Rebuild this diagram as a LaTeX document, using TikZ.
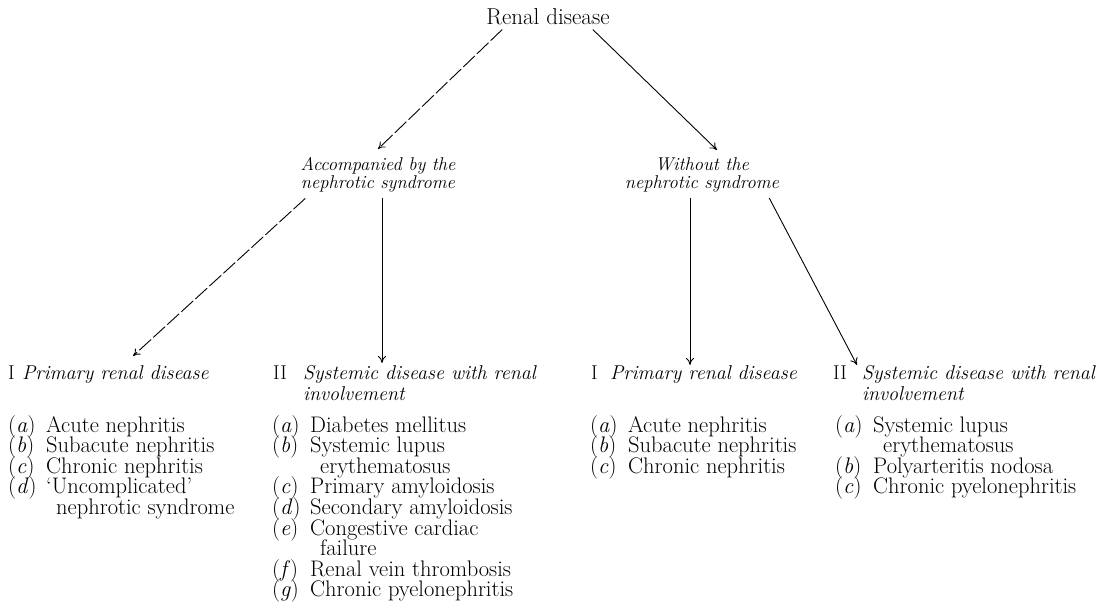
\documentclass[tikz,border=0pt]{standalone}
\usepackage{tikz}
\usetikzlibrary{arrows.meta,positioning}

\newcommand{\itm}[2]{\makebox[38pt][l]{(\textit{#1})}#2}
\newcommand{\more}[1]{\hspace*{48pt}#1}
\newcommand{\tightlines}{\lineskiplimit=-20pt\relax}

\begin{document}
\begin{tikzpicture}[x=1pt, y=-1pt]
    \tikzstyle{root} = [font=\fontsize{23}{23}\selectfont, inner sep=2pt]
    \tikzstyle{branch} = [font=\fontsize{18.5}{18}\selectfont\itshape\tightlines, align=center, inner sep=2pt]
    \tikzstyle{group} = [font=\fontsize{20}{21}\selectfont\tightlines, align=left, anchor=north west, inner sep=0pt]
    \tikzstyle{items} = [font=\fontsize{22.5}{20.6}\selectfont\tightlines, align=left, anchor=north west, inner sep=0pt]
    \tikzstyle{arrow} = [line width=0.9pt, ->, >={To[length=7pt,width=8pt]}]
    \tikzstyle{broken} = [dash pattern=on 16pt off 3pt]

    \useasboundingbox (0,0) rectangle (1103,604);

    % Root
    \node [root, anchor=base] (renal) at (548,25) {Renal disease};

    % Branches
    \node [branch, anchor=north] (accomp) at (378,155) {Accompanied by the\\nephrotic syndrome};
    \node [branch, anchor=north] (without) at (702,155) {Without the\\nephrotic syndrome};

    % Group headings
    \node [group] (prim1) at (8,365) {\makebox[14pt][l]{I}\textit{Primary renal disease}};
    \node [group] (syst1) at (273,365) {\makebox[30pt][l]{II}\textit{Systemic disease with renal}\\\hspace*{30pt}\textit{involvement}};
    \node [group] (prim2) at (591,365) {\makebox[19pt][l]{I}\textit{Primary renal disease}};
    \node [group] (syst2) at (833,365) {\makebox[29pt][l]{II}\textit{Systemic disease with renal}\\\hspace*{29pt}\textit{involvement}};

    % Lists
    \node [items] (list1) at (8,415) {\itm{a}{Acute nephritis}\\\itm{b}{Subacute nephritis}\\\itm{c}{Chronic nephritis}\\\itm{d}{`Uncomplicated'}\\\more{nephrotic syndrome}};
    \node [items] (list2) at (272,415) {\itm{a}{Diabetes mellitus}\\\itm{b}{Systemic lupus}\\\more{erythematosus}\\\itm{c}{Primary amyloidosis}\\\itm{d}{Secondary amyloidosis}\\\itm{e}{Congestive cardiac}\\\more{failure}\\\itm{f}{Renal vein thrombosis}\\\itm{g}{Chronic pyelonephritis}};
    \node [items] (list3) at (590,415) {\itm{a}{Acute nephritis}\\\itm{b}{Subacute nephritis}\\\itm{c}{Chronic nephritis}};
    \node [items] (list4) at (835,415) {\itm{a}{Systemic lupus}\\\more{erythematosus}\\\itm{b}{Polyarteritis nodosa}\\\itm{c}{Chronic pyelonephritis}};

    % Arrows
    \draw [arrow, broken] ([xshift=18pt,yshift=-2pt]renal.south west) -- ([yshift=6pt]accomp.north);
    \draw [arrow] ([xshift=-19pt,yshift=-2pt]renal.south east) -- ([xshift=15pt,yshift=5pt]without.north);
    \draw [arrow, broken] ([xshift=7pt,yshift=-4pt]accomp.south west) -- ([xshift=125pt,yshift=9pt]prim1.north west);
    \draw [arrow] ([xshift=4pt,yshift=-4pt]accomp.south) -- ([xshift=109pt,yshift=2pt]syst1.north west);
    \draw [arrow] ([xshift=-12pt,yshift=-4pt]without.south) -- ([xshift=99pt]prim2.north west);
    \draw [arrow] ([xshift=-12pt,yshift=-4pt]without.south east) -- ([xshift=24pt]syst2.north west);
\end{tikzpicture}
\end{document}
